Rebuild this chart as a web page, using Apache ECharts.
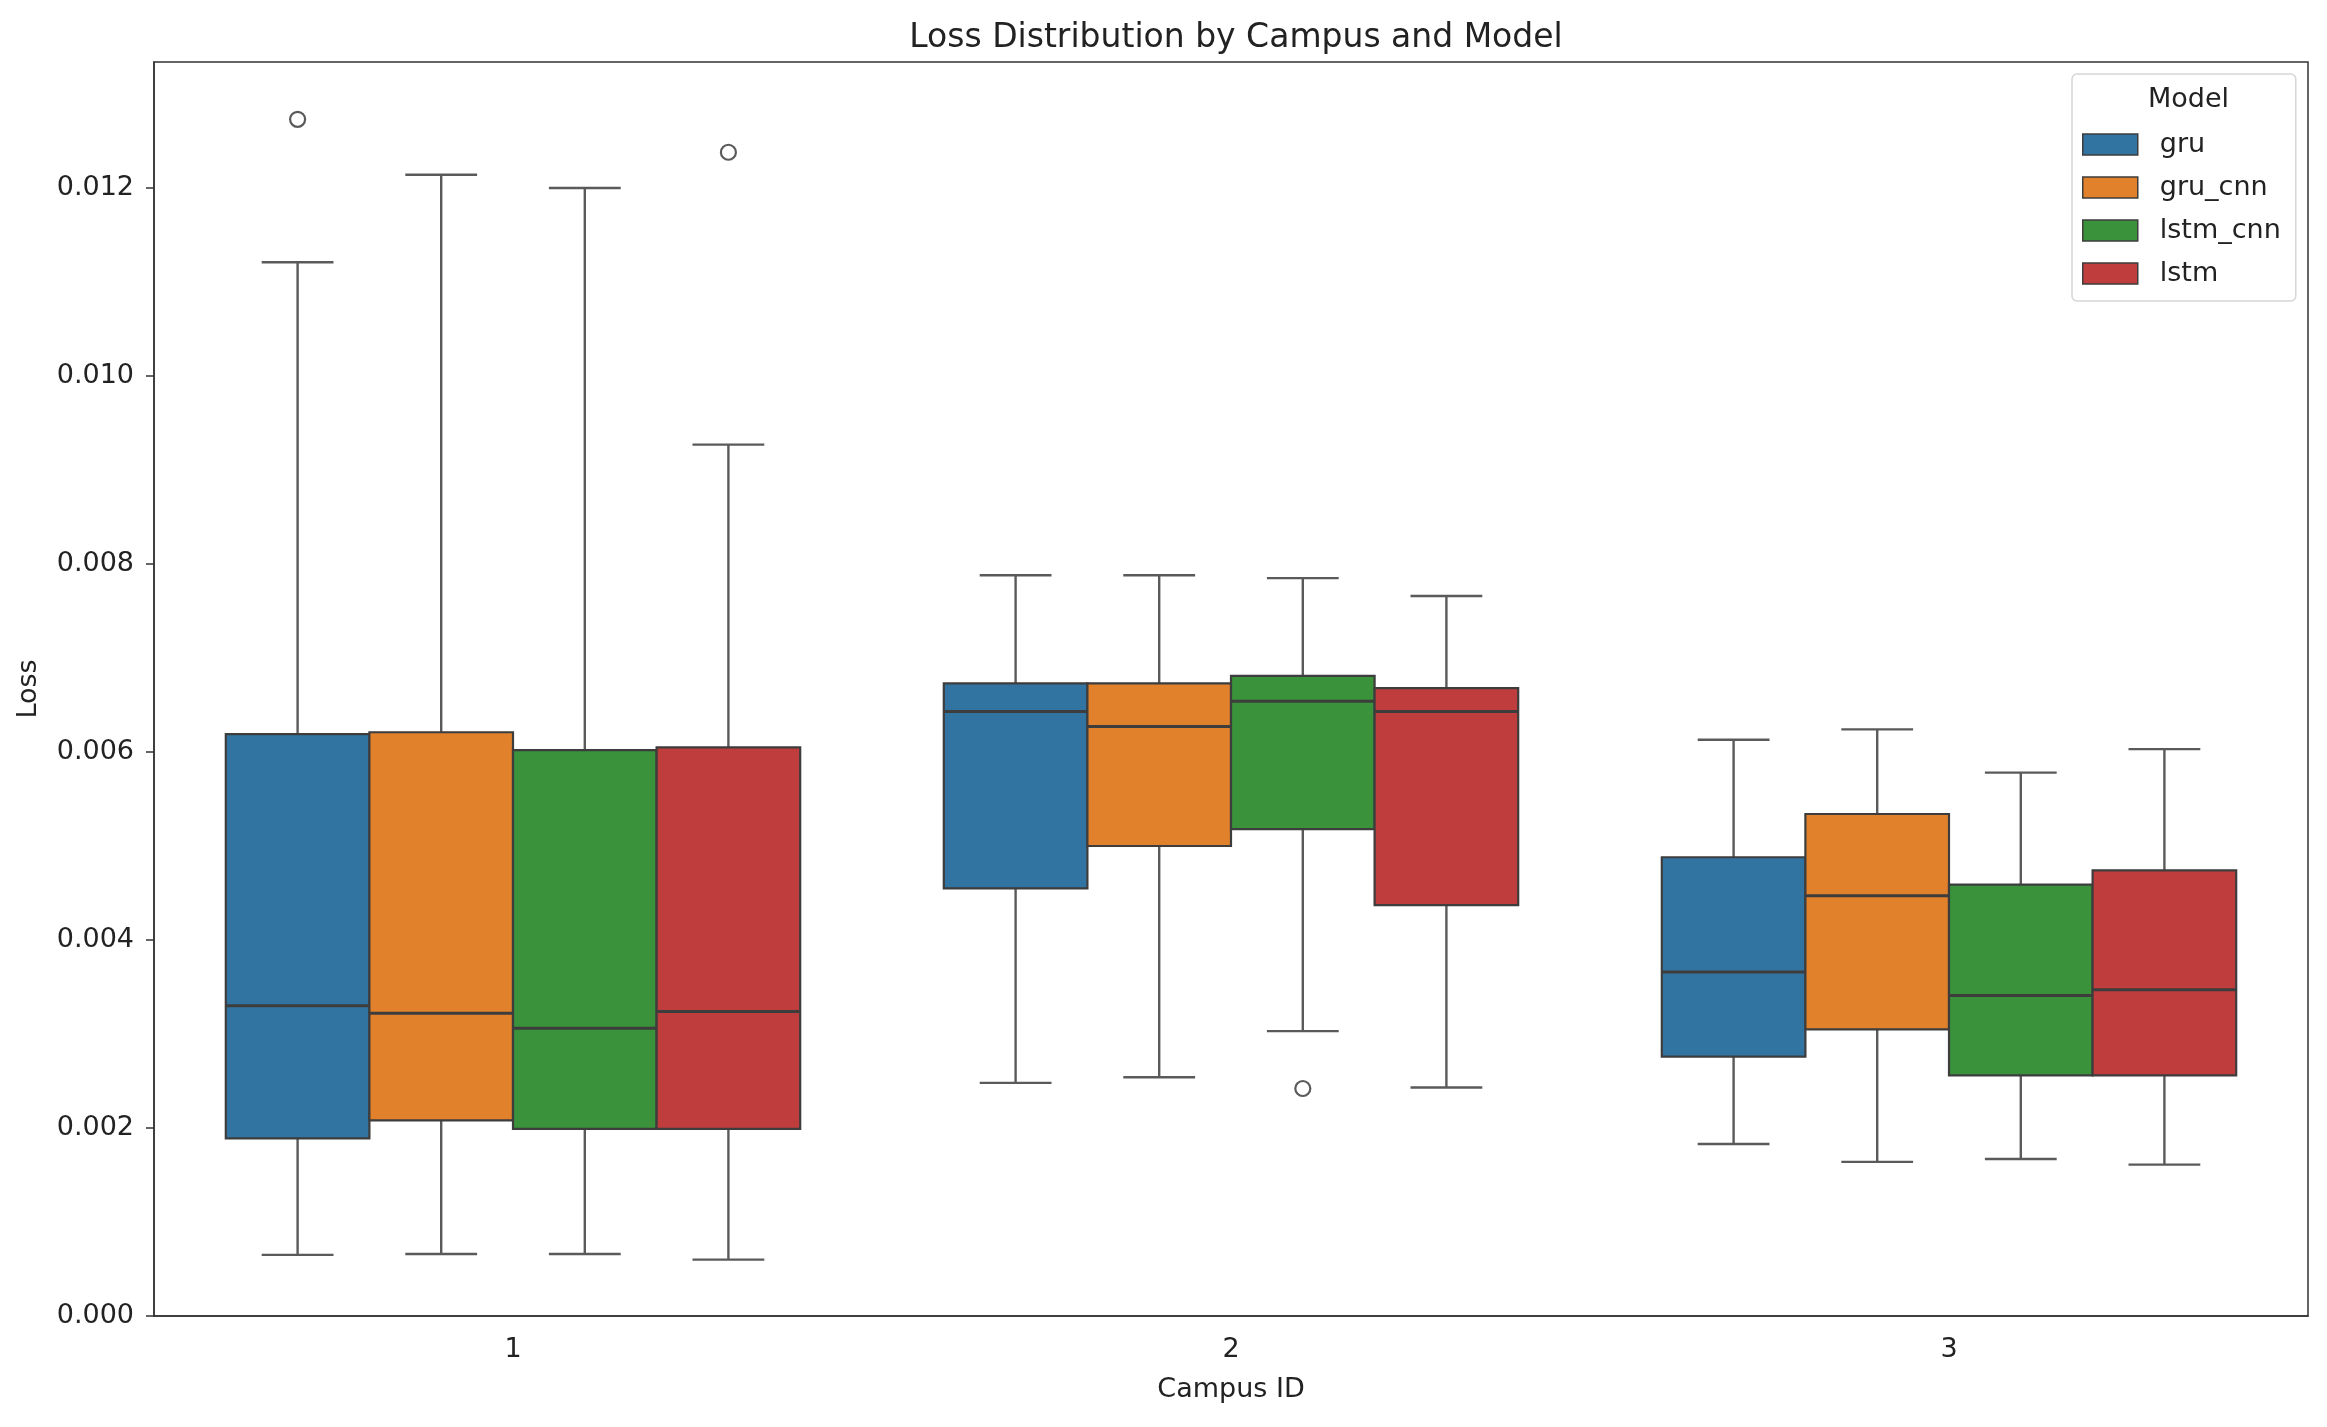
<!DOCTYPE html>
<html>
<head>
<meta charset="utf-8">
<title>Loss Distribution by Campus and Model</title>
<script src="https://cdn.jsdelivr.net/npm/echarts@6/dist/echarts.min.js"></script>
<style>
	html, body { margin: 0; padding: 0; background: #fff; }
	#chart { width: 2327px; height: 1427px; }
</style>
</head>
<body>
<div id="chart"></div>
<script>
// campus categories and model names (legend order)
var campuses = ['1', '2', '3'];
var models = ['gru', 'gru_cnn', 'lstm_cnn', 'lstm'];
var colors = ['#3274a1', '#e1812c', '#3a923a', '#c03d3e'];

// per campus: [lower whisker, Q1, median, Q3, upper whisker]
var gruStats = [
	[0.00065, 0.00189, 0.00330, 0.00619, 0.01121],
	[0.00248, 0.00455, 0.00643, 0.00673, 0.00788],
	[0.00183, 0.00276, 0.00366, 0.00488, 0.00613]
];
var gruCnnStats = [
	[0.00066, 0.00208, 0.00322, 0.00621, 0.01214],
	[0.00254, 0.00500, 0.00627, 0.00673, 0.00788],
	[0.00164, 0.00305, 0.00447, 0.00534, 0.00624]
];
var lstmCnnStats = [
	[0.00066, 0.00199, 0.00306, 0.00602, 0.01200],
	[0.00303, 0.00518, 0.00654, 0.00681, 0.00785],
	[0.00167, 0.00256, 0.00341, 0.00459, 0.00578]
];
var lstmStats = [
	[0.00060, 0.00199, 0.00324, 0.00605, 0.00927],
	[0.00243, 0.00437, 0.00643, 0.00668, 0.00766],
	[0.00161, 0.00256, 0.00347, 0.00474, 0.00603]
];

// outliers: [campus index, loss]
var gruOutliers = [[0, 0.01273]];
var gruCnnOutliers = [];
var lstmCnnOutliers = [[1, 0.00242]];
var lstmOutliers = [[0, 0.01238]];

var yTicks = { min: 0, max: 0.01334, interval: 0.002 };

var allStats = [gruStats, gruCnnStats, lstmCnnStats, lstmStats];
var allOutliers = [gruOutliers, gruCnnOutliers, lstmCnnOutliers, lstmOutliers];

var FONT = 'DejaVu Sans';
var EDGE = '#3d3d3d';
var WHISKER = '#5a5a5a';

// x position of model k's box inside a campus band (seaborn dodge, width .8)
function boxSlot(api, cat, k) {
	var center = api.coord([cat, 0])[0];
	var band = api.size([1, 0])[0];
	var w = band * 0.8 / models.length;
	var x0 = center - band * 0.4 + k * w;
	return { x0: x0, w: w, mid: x0 + w / 2 };
}

function boxRenderer(k) {
	return function (params, api) {
		var cat = api.value(0);
		var slot = boxSlot(api, cat, k);
		var yMin = api.coord([cat, api.value(1)])[1];
		var yQ1 = api.coord([cat, api.value(2)])[1];
		var yMed = api.coord([cat, api.value(3)])[1];
		var yQ3 = api.coord([cat, api.value(4)])[1];
		var yMax = api.coord([cat, api.value(5)])[1];
		var cap = slot.w * 0.25;
		var wStyle = { stroke: WHISKER, lineWidth: 2.4 };
		return {
			type: 'group',
			children: [
				{ type: 'line', shape: { x1: slot.mid, y1: yQ3, x2: slot.mid, y2: yMax }, style: wStyle },
				{ type: 'line', shape: { x1: slot.mid, y1: yQ1, x2: slot.mid, y2: yMin }, style: wStyle },
				{ type: 'line', shape: { x1: slot.mid - cap, y1: yMax, x2: slot.mid + cap, y2: yMax }, style: wStyle },
				{ type: 'line', shape: { x1: slot.mid - cap, y1: yMin, x2: slot.mid + cap, y2: yMin }, style: wStyle },
				{
					type: 'rect',
					shape: { x: slot.x0, y: yQ3, width: slot.w, height: yQ1 - yQ3 },
					style: { fill: colors[k], stroke: EDGE, lineWidth: 2.2 }
				},
				{ type: 'line', shape: { x1: slot.x0, y1: yMed, x2: slot.x0 + slot.w, y2: yMed }, style: { stroke: EDGE, lineWidth: 3 } }
			]
		};
	};
}

function outlierRenderer(k) {
	return function (params, api) {
		var cat = api.value(0);
		var slot = boxSlot(api, cat, k);
		var y = api.coord([cat, api.value(1)])[1];
		return {
			type: 'circle',
			shape: { cx: slot.mid, cy: y, r: 7.5 },
			style: { fill: 'none', stroke: WHISKER, lineWidth: 2.2 }
		};
	};
}

var series = [];
models.forEach(function (name, k) {
	series.push({
		name: name,
		type: 'custom',
		renderItem: boxRenderer(k),
		itemStyle: { color: colors[k] },
		encode: { x: 0, y: [1, 2, 3, 4, 5] },
		data: allStats[k].map(function (s, i) { return [i].concat(s); })
	});
	series.push({
		name: name,
		type: 'custom',
		renderItem: outlierRenderer(k),
		itemStyle: { color: colors[k] },
		encode: { x: 0, y: 1 },
		data: allOutliers[k]
	});
});

var myChart = echarts.init(document.getElementById('chart'));

var option = {
	animation: false,
	color: colors,
	title: {
		text: 'Loss Distribution by Campus and Model',
		left: 1231,
		textAlign: 'center',
		top: 17,
		textStyle: { fontFamily: FONT, fontSize: 33, fontWeight: 'normal', color: '#222' }
	},
	legend: {
		data: models,
		orient: 'vertical',
		left: 2072,
		top: 74,
		padding: [57, 15, 14, 10],
		backgroundColor: '#fff',
		borderColor: '#d6d6d6',
		borderWidth: 1.5,
		borderRadius: 5,
		icon: 'rect',
		itemWidth: 55,
		itemHeight: 21,
		itemGap: 16,
		itemStyle: { borderColor: EDGE, borderWidth: 1.5 },
		textStyle: { fontFamily: FONT, fontSize: 27, color: '#222', lineHeight: 27, padding: [0, 0, 0, 17] }
	},
	graphic: [{
		type: 'text',
		left: 2148,
		top: 86,
		z: 100,
		style: { text: 'Model', fontFamily: FONT, fontSize: 27, fill: '#222' }
	}],
	grid: {
		left: 154,
		right: 19,
		top: 62,
		bottom: 111,
		show: true,
		borderColor: '#333',
		borderWidth: 1.5
	},
	xAxis: {
		type: 'category',
		data: campuses,
		name: 'Campus ID',
		nameLocation: 'middle',
		nameGap: 60,
		nameTextStyle: { fontFamily: FONT, fontSize: 27, color: '#222' },
		axisLine: { lineStyle: { color: '#333', width: 1.5 } },
		axisTick: { alignWithLabel: true, length: 8, lineStyle: { color: '#333', width: 1.5 } },
		axisLabel: { fontFamily: FONT, fontSize: 27, color: '#222', margin: 20 },
		splitLine: { show: false }
	},
	yAxis: {
		type: 'value',
		min: yTicks.min,
		max: yTicks.max,
		interval: yTicks.interval,
		name: 'Loss',
		nameLocation: 'middle',
		nameGap: 112,
		nameTextStyle: { fontFamily: FONT, fontSize: 27, color: '#222' },
		axisLine: { show: true, lineStyle: { color: '#333', width: 1.5 } },
		axisTick: { show: true, length: 8, lineStyle: { color: '#333', width: 1.5 } },
		axisLabel: {
			fontFamily: FONT,
			fontSize: 27,
			color: '#222',
			margin: 20,
			showMaxLabel: false,
			formatter: function (v) { return v.toFixed(3); }
		},
		splitLine: { show: false }
	},
	series: series
};

myChart.setOption(option);
</script>
</body>
</html>
